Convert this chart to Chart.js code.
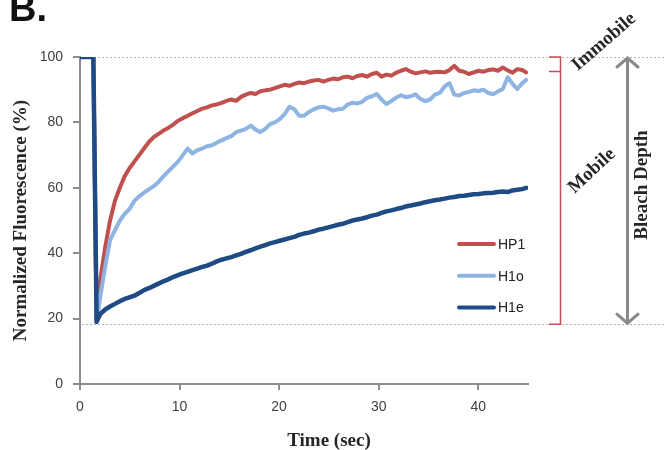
<!DOCTYPE html>
<html>
<head>
<meta charset="utf-8">
<script src="https://cdn.jsdelivr.net/npm/chart.js@4"></script>
<style>
html, body { margin: 0; padding: 0; background: #fff; }
#wrap { width: 665px; height: 450px; }
</style>
</head>
<body>
<div id="wrap"><canvas id="frap"></canvas></div>
<script>
/*===== DATA =====*/

// time after start (sec), one frame every ~0.49 s
const times = [
    0, 0.5, 1.0, 1.34, 1.67,
    2.05, 2.54, 3.02, 3.51, 4.0, 4.48, 4.97, 5.46, 5.94, 6.43,
    6.92, 7.41, 7.89, 8.38, 8.87, 9.35, 9.84, 10.33, 10.81, 11.3,
    11.79, 12.28, 12.76, 13.25, 13.74, 14.22, 14.71, 15.2, 15.68, 16.17,
    16.66, 17.15, 17.63, 18.12, 18.61, 19.09, 19.58, 20.07, 20.55, 21.04,
    21.53, 22.02, 22.5, 22.99, 23.48, 23.96, 24.45, 24.94, 25.42, 25.91,
    26.4, 26.89, 27.37, 27.86, 28.35, 28.83, 29.32, 29.81, 30.29, 30.78,
    31.27, 31.76, 32.24, 32.73, 33.22, 33.7, 34.19, 34.68, 35.16, 35.65,
    36.14, 36.63, 37.11, 37.6, 38.09, 38.57, 39.06, 39.55, 40.03, 40.52,
    41.01, 41.5, 41.98, 42.47, 42.96, 43.44, 43.93, 44.42,
    44.81
];

const hp1 = [
    100, 100, 100, 100, 19,
    32, 42, 50, 56, 60, 63.5, 66, 68, 70, 72,
    74, 75.5, 76.5, 77.5, 78.3, 79.3, 80.5, 81.3, 82, 82.8,
    83.5, 84.2, 84.6, 85.2, 85.5, 86, 86.6, 87, 86.6, 87.8,
    88.5, 89, 88.7, 89.5, 89.8, 90, 90.5, 91, 91.5, 91.2,
    91.8, 92.2, 92, 92.5, 92.8, 93, 92.5, 93, 93.4, 93.2,
    93.8, 94, 93.5, 94.2, 94.5, 94, 94.8, 95.2, 94, 94.6,
    94.3, 95.2, 95.8, 96.3, 95.5, 95, 95.3, 95.6, 95.2, 95.4,
    95.5, 95.3, 96, 97.3, 95.8, 95.5, 94.8, 95.3, 95.8, 95.5,
    96, 96.2, 95.8, 96.8, 95.9, 95.2, 96.3, 96,
    95.3
];

const h1o = [
    100, 100, 100, 100, 19,
    27, 36, 44, 47, 50, 52, 53.5, 56, 57.4, 58.5,
    59.5, 60.5, 61.8, 63.5, 65, 66.5, 68, 70, 72, 70.5,
    71.5, 72, 72.7, 73, 73.8, 74.5, 75.2, 75.8, 77, 77.5,
    78, 79, 77.8, 77, 78, 79.5, 80, 81, 82.5, 84.8,
    84, 82, 82, 83.2, 84, 84.6, 84.8, 84.3, 83.6, 84,
    84.2, 85.5, 86, 85.8, 86.3, 87.5, 88, 88.7, 87, 85.6,
    86.5, 87.6, 88.3, 87.7, 88, 88.6, 87.2, 86.5, 87, 88.5,
    89, 91, 92, 88.5, 88.2, 89, 89.3, 89.8, 89.6, 90,
    89, 88.6, 89.5, 90.2, 93.8, 91.8, 90.2, 92,
    93
];

const h1e = [
    100, 100, 100, 100, 19,
    21.5, 22.8, 23.7, 24.5, 25.3, 26, 26.5, 27, 27.8, 28.7,
    29.3, 30, 30.7, 31.4, 32, 32.7, 33.3, 33.8, 34.3, 34.8,
    35.3, 35.8, 36.2, 36.8, 37.5, 38, 38.4, 38.8, 39.3, 39.8,
    40.4, 40.9, 41.5, 42, 42.5, 43, 43.4, 43.8, 44.2, 44.6,
    45, 45.6, 46, 46.3, 46.7, 47.2, 47.5, 47.9, 48.3, 48.7,
    49, 49.5, 50, 50.3, 50.6, 51, 51.5, 51.8, 52.3, 52.8,
    53.1, 53.5, 53.8, 54.3, 54.6, 54.9, 55.2, 55.6, 55.9, 56.2,
    56.4, 56.7, 57, 57.2, 57.5, 57.6, 57.8, 58, 58.1, 58.3,
    58.4, 58.5, 58.7, 58.9, 58.7, 59.2, 59.4, 59.6,
    60
];

const seriesNames = ["HP1", "H1o", "H1e"];
const seriesColors = ["#c0504d", "#8db4e2", "#1f4b85"];

const prebleach = 100;      // top dotted line
const bleachLevel = 18.3;   // bottom dotted line
const plateau = 95.6;       // mobile / immobile split

/*===== DRAWING HELPERS =====*/

const serif = "'Liberation Serif', 'Times New Roman', serif";
const sans = "'Liberation Sans', Arial, sans-serif";

function rotatedText(ctx, text, x, y, deg) {
    ctx.save();
    ctx.translate(x, y);
    ctx.rotate(deg * Math.PI / 180);
    ctx.fillText(text, 0, 0);
    ctx.restore();
}

var annotations = {
    id: "annotations",
    beforeDatasetsDraw: function(chart) {
        var ctx = chart.ctx, y = chart.scales.y, area = chart.chartArea;
        ctx.save();
        ctx.strokeStyle = "#b4b4b4";
        ctx.lineWidth = 1;
        ctx.setLineDash([2, 2]);
        [prebleach, bleachLevel].forEach(function(v) {
            var py = Math.round(y.getPixelForValue(v)) + 0.5;
            ctx.beginPath();
            ctx.moveTo(area.left + 2, py);
            ctx.lineTo(chart.width, py);
            ctx.stroke();
        });
        ctx.restore();
    },
    afterDraw: function(chart) {
        var ctx = chart.ctx, y = chart.scales.y;
        var yTop = y.getPixelForValue(prebleach);
        var yMid = y.getPixelForValue(plateau);
        var yBot = y.getPixelForValue(bleachLevel);
        ctx.save();

        // red bracket
        ctx.strokeStyle = "#c84a55";
        ctx.lineWidth = 1.5;
        ctx.beginPath();
        ctx.moveTo(549, yTop); ctx.lineTo(560.5, yTop); ctx.lineTo(560.5, yBot); ctx.lineTo(549, yBot);
        ctx.moveTo(549, yMid); ctx.lineTo(560.5, yMid);
        ctx.stroke();

        // grey double arrow
        ctx.strokeStyle = "#8a8a8a";
        ctx.lineWidth = 3;
        ctx.lineCap = "round";
        ctx.beginPath();
        ctx.moveTo(627.5, yTop + 1); ctx.lineTo(627.5, yBot - 1);
        ctx.moveTo(617, yTop + 10); ctx.lineTo(627.5, yTop + 1); ctx.lineTo(638, yTop + 10);
        ctx.moveTo(617, yBot - 10); ctx.lineTo(627.5, yBot - 1); ctx.lineTo(638, yBot - 10);
        ctx.stroke();

        // side labels
        ctx.fillStyle = "#262626";
        ctx.font = "bold 19px " + serif;
        ctx.textAlign = "center";
        ctx.textBaseline = "middle";
        rotatedText(ctx, "Immobile", 604, 42, -41);
        rotatedText(ctx, "Mobile", 592, 171, -43);
        rotatedText(ctx, "Bleach Depth", 642, 185, -90);
        ctx.fillText("Time (sec)", 329, 441);

        // panel letter
        ctx.fillStyle = "#111";
        ctx.font = "bold 38px " + sans;
        ctx.textAlign = "left";
        ctx.textBaseline = "alphabetic";
        ctx.fillText("B.", 9, 21);

        // legend
        ctx.font = "14px " + sans;
        ctx.textBaseline = "middle";
        ctx.lineWidth = 4;
        chart.data.datasets.forEach(function(ds, i) {
            var ly = 244 + i * 31.7;
            ctx.strokeStyle = ds.borderColor;
            ctx.beginPath();
            ctx.moveTo(459, ly); ctx.lineTo(494, ly);
            ctx.stroke();
            ctx.fillStyle = "#222";
            ctx.fillText(ds.label, 498, ly + 1);
        });
        ctx.restore();
    }
};

/*===== CHART =====*/

function series(values) {
    return times.map(function(t, i) { return { x: t, y: values[i] }; });
}

var axisGrey = "#8c8c8c";

new Chart("frap", {
    type: "line",
    data: {
        datasets: [hp1, h1o, h1e].map(function(values, i) {
            return {
                label: seriesNames[i],
                data: series(values),
                borderColor: seriesColors[i],
                backgroundColor: seriesColors[i],
                borderWidth: i === 2 ? 4.5 : 4,
                borderJoinStyle: "round",
                borderCapStyle: "round",
                pointRadius: 0,
                tension: 0,
                order: 3 - i
            };
        })
    },
    options: {
        responsive: true,
        maintainAspectRatio: false,
        animation: false,
        layout: { padding: { left: 0, top: 57, right: 137, bottom: 0 } },
        plugins: {
            legend: { display: false },
            tooltip: { enabled: false }
        },
        scales: {
            x: {
                type: "linear",
                min: 0,
                max: 45,
                afterFit: function(scale) { scale.height = 66; },
                border: { color: axisGrey, width: 2 },
                grid: { drawOnChartArea: false, tickLength: 6, color: axisGrey, lineWidth: 2 },
                ticks: { stepSize: 10, includeBounds: false, padding: 9, color: "#404040", font: { family: sans, size: 14 } }
            },
            y: {
                min: 0,
                max: 100,
                afterFit: function(scale) { scale.width = 80; },
                border: { color: axisGrey, width: 2 },
                grid: { drawOnChartArea: false, tickLength: 7, color: axisGrey, lineWidth: 2 },
                ticks: { stepSize: 20, padding: 10, color: "#404040", font: { family: sans, size: 14 } },
                title: {
                    display: true,
                    text: "Normalized Fluorescence (%)",
                    color: "#262626",
                    font: { family: serif, size: 19, weight: "bold" },
                    padding: { top: 10, bottom: 0 }
                }
            }
        }
    },
    plugins: [annotations]
});
</script>
</body>
</html>
